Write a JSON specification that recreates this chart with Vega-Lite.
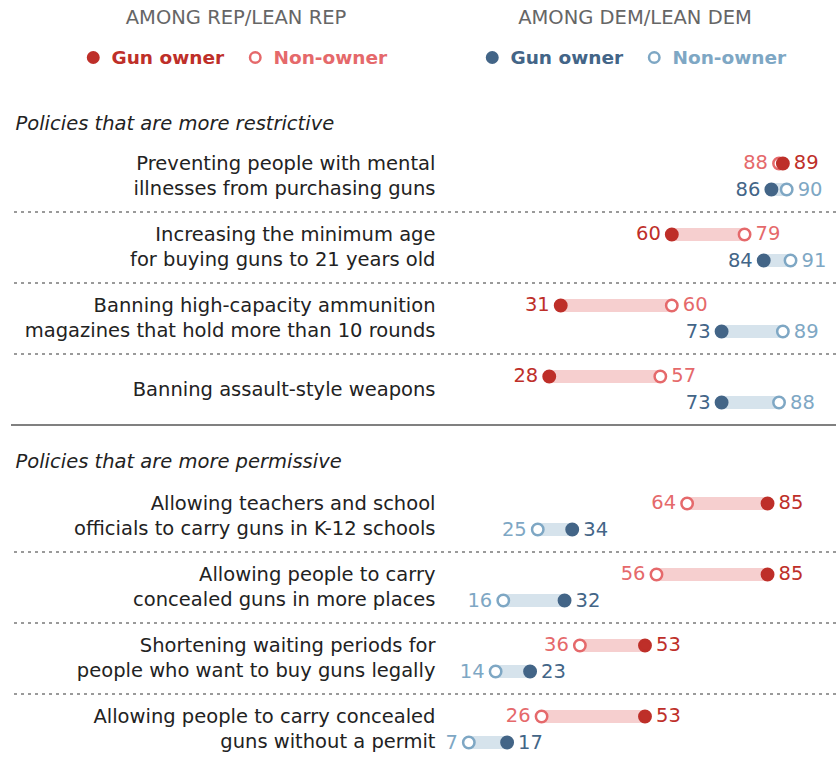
{
  "$schema": "https://vega.github.io/schema/vega-lite/v6.json",
  "padding": {"left": 10, "top": 8, "right": 3, "bottom": 5},
  "autosize": {"type": "pad"},
  "background": "white",
  "config": {"view": {"stroke": null}, "font": "DejaVu Sans"},
  "spacing": 25,
  "data": {"values": [
    {"n": 1, "policy": "Preventing people with mental\nillnesses from purchasing guns", "party": "Rep", "owner": "Non-owner", "value": 88},
    {"n": 1, "policy": "Preventing people with mental\nillnesses from purchasing guns", "party": "Rep", "owner": "Gun owner", "value": 89},
    {"n": 1, "policy": "Preventing people with mental\nillnesses from purchasing guns", "party": "Dem", "owner": "Non-owner", "value": 90},
    {"n": 1, "policy": "Preventing people with mental\nillnesses from purchasing guns", "party": "Dem", "owner": "Gun owner", "value": 86},
    {"n": 2, "policy": "Increasing the minimum age\nfor buying guns to 21 years old", "party": "Rep", "owner": "Non-owner", "value": 79},
    {"n": 2, "policy": "Increasing the minimum age\nfor buying guns to 21 years old", "party": "Rep", "owner": "Gun owner", "value": 60},
    {"n": 2, "policy": "Increasing the minimum age\nfor buying guns to 21 years old", "party": "Dem", "owner": "Non-owner", "value": 91},
    {"n": 2, "policy": "Increasing the minimum age\nfor buying guns to 21 years old", "party": "Dem", "owner": "Gun owner", "value": 84},
    {"n": 3, "policy": "Banning high-capacity ammunition\nmagazines that hold more than 10 rounds", "party": "Rep", "owner": "Non-owner", "value": 60},
    {"n": 3, "policy": "Banning high-capacity ammunition\nmagazines that hold more than 10 rounds", "party": "Rep", "owner": "Gun owner", "value": 31},
    {"n": 3, "policy": "Banning high-capacity ammunition\nmagazines that hold more than 10 rounds", "party": "Dem", "owner": "Non-owner", "value": 89},
    {"n": 3, "policy": "Banning high-capacity ammunition\nmagazines that hold more than 10 rounds", "party": "Dem", "owner": "Gun owner", "value": 73},
    {"n": 4, "policy": "Banning assault-style weapons", "party": "Rep", "owner": "Non-owner", "value": 57},
    {"n": 4, "policy": "Banning assault-style weapons", "party": "Rep", "owner": "Gun owner", "value": 28},
    {"n": 4, "policy": "Banning assault-style weapons", "party": "Dem", "owner": "Non-owner", "value": 88},
    {"n": 4, "policy": "Banning assault-style weapons", "party": "Dem", "owner": "Gun owner", "value": 73},
    {"n": 5, "policy": "Allowing teachers and school\nofficials to carry guns in K-12 schools", "party": "Rep", "owner": "Non-owner", "value": 64},
    {"n": 5, "policy": "Allowing teachers and school\nofficials to carry guns in K-12 schools", "party": "Rep", "owner": "Gun owner", "value": 85},
    {"n": 5, "policy": "Allowing teachers and school\nofficials to carry guns in K-12 schools", "party": "Dem", "owner": "Non-owner", "value": 25},
    {"n": 5, "policy": "Allowing teachers and school\nofficials to carry guns in K-12 schools", "party": "Dem", "owner": "Gun owner", "value": 34},
    {"n": 6, "policy": "Allowing people to carry\nconcealed guns in more places", "party": "Rep", "owner": "Non-owner", "value": 56},
    {"n": 6, "policy": "Allowing people to carry\nconcealed guns in more places", "party": "Rep", "owner": "Gun owner", "value": 85},
    {"n": 6, "policy": "Allowing people to carry\nconcealed guns in more places", "party": "Dem", "owner": "Non-owner", "value": 16},
    {"n": 6, "policy": "Allowing people to carry\nconcealed guns in more places", "party": "Dem", "owner": "Gun owner", "value": 32},
    {"n": 7, "policy": "Shortening waiting periods for\npeople who want to buy guns legally", "party": "Rep", "owner": "Non-owner", "value": 36},
    {"n": 7, "policy": "Shortening waiting periods for\npeople who want to buy guns legally", "party": "Rep", "owner": "Gun owner", "value": 53},
    {"n": 7, "policy": "Shortening waiting periods for\npeople who want to buy guns legally", "party": "Dem", "owner": "Non-owner", "value": 14},
    {"n": 7, "policy": "Shortening waiting periods for\npeople who want to buy guns legally", "party": "Dem", "owner": "Gun owner", "value": 23},
    {"n": 8, "policy": "Allowing people to carry concealed\nguns without a permit", "party": "Rep", "owner": "Non-owner", "value": 26},
    {"n": 8, "policy": "Allowing people to carry concealed\nguns without a permit", "party": "Rep", "owner": "Gun owner", "value": 53},
    {"n": 8, "policy": "Allowing people to carry concealed\nguns without a permit", "party": "Dem", "owner": "Non-owner", "value": 7},
    {"n": 8, "policy": "Allowing people to carry concealed\nguns without a permit", "party": "Dem", "owner": "Gun owner", "value": 17}
  ]},
  "vconcat": [
    {
      "width": 825,
      "height": 284,
      "transform": [{"filter": "datum.n <= 4"}],
      "layer": [
        {
          "transform": [{"filter": "datum.party == 'Rep' && datum.owner == 'Gun owner' && datum.n != 1"}],
          "mark": {"type": "rule", "stroke": "#7a7a7a", "strokeWidth": 1.5, "strokeDash": [3, 4]},
          "encoding": {
            "y": {"field": "policy", "type": "nominal", "sort": {"field": "n", "op": "min"}, "bandPosition": 0, "scale": {"paddingInner": 0, "paddingOuter": 0}, "axis": {"title": "Policies that are more restrictive", "titleAngle": 0, "titleAlign": "left", "titleBaseline": "alphabetic", "titleX": -420, "titleY": -11.5, "titleFontSize": 19.5, "titleFontStyle": "italic", "titleFontWeight": "normal", "titleColor": "#222", "orient": "left", "offset": -424, "labelPadding": 0, "ticks": false, "domain": false, "grid": false, "labelExpr": "split(datum.label, '\\n')", "labelOffset": {"condition": {"test": "indexof(datum.value, '\\n') >= 0", "value": -12.5}, "value": 0}, "labelFontSize": 19.5, "labelColor": "#222", "labelLimit": 0, "labelLineHeight": 25, "labelBaseline": "middle", "labelAlign": "right"}}
          }
        },
        {
          "transform": [{"filter": "datum.party == 'Rep' && datum.owner == 'Gun owner' && datum.n == 4"}],
          "mark": {"type": "rule", "stroke": "#808080", "strokeWidth": 2},
          "encoding": {
            "y": {"field": "policy", "type": "nominal", "sort": {"field": "n", "op": "min"}, "bandPosition": 1, "axis": {"title": "Policies that are more restrictive", "titleAngle": 0, "titleAlign": "left", "titleBaseline": "alphabetic", "titleX": -420, "titleY": -11.5, "titleFontSize": 19.5, "titleFontStyle": "italic", "titleFontWeight": "normal", "titleColor": "#222", "orient": "left", "offset": -424, "labelPadding": 0, "ticks": false, "domain": false, "grid": false, "labelExpr": "split(datum.label, '\\n')", "labelOffset": {"condition": {"test": "indexof(datum.value, '\\n') >= 0", "value": -12.5}, "value": 0}, "labelFontSize": 19.5, "labelColor": "#222", "labelLimit": 0, "labelLineHeight": 25, "labelBaseline": "middle", "labelAlign": "right"}}
          }
        },
        {
          "mark": {"type": "bar", "size": 13},
          "encoding": {
            "y": {"field": "policy", "type": "nominal", "sort": {"field": "n", "op": "min"}, "axis": {"title": "Policies that are more restrictive", "titleAngle": 0, "titleAlign": "left", "titleBaseline": "alphabetic", "titleX": -420, "titleY": -11.5, "titleFontSize": 19.5, "titleFontStyle": "italic", "titleFontWeight": "normal", "titleColor": "#222", "orient": "left", "offset": -424, "labelPadding": 0, "ticks": false, "domain": false, "grid": false, "labelExpr": "split(datum.label, '\\n')", "labelOffset": {"condition": {"test": "indexof(datum.value, '\\n') >= 0", "value": -12.5}, "value": 0}, "labelFontSize": 19.5, "labelColor": "#222", "labelLimit": 0, "labelLineHeight": 25, "labelBaseline": "middle", "labelAlign": "right"}},
            "yOffset": {"field": "party", "type": "nominal", "scale": {"domain": ["Rep", "Dem"], "paddingInner": 0, "paddingOuter": 0.365}},
            "x": {"aggregate": "min", "field": "value", "type": "quantitative", "scale": {"domain": [0, 100], "range": [431, 814], "nice": false, "zero": false}, "axis": null},
            "x2": {"aggregate": "max", "field": "value"},
            "color": {"condition": {"test": "datum.party == 'Rep'", "value": "#F6CFCF"}, "value": "#D6E3EC"}
          }
        },
        {
          "transform": [{"filter": "datum.party == 'Rep'"}],
          "mark": {"type": "point", "shape": "circle", "size": 130, "strokeWidth": 2.5, "opacity": 1, "filled": true},
          "encoding": {
            "y": {"field": "policy", "type": "nominal", "sort": {"field": "n", "op": "min"}, "axis": {"title": "Policies that are more restrictive", "titleAngle": 0, "titleAlign": "left", "titleBaseline": "alphabetic", "titleX": -420, "titleY": -11.5, "titleFontSize": 19.5, "titleFontStyle": "italic", "titleFontWeight": "normal", "titleColor": "#222", "orient": "left", "offset": -424, "labelPadding": 0, "ticks": false, "domain": false, "grid": false, "labelExpr": "split(datum.label, '\\n')", "labelOffset": {"condition": {"test": "indexof(datum.value, '\\n') >= 0", "value": -12.5}, "value": 0}, "labelFontSize": 19.5, "labelColor": "#222", "labelLimit": 0, "labelLineHeight": 25, "labelBaseline": "middle", "labelAlign": "right"}},
            "yOffset": {"field": "party", "type": "nominal"},
            "x": {"field": "value", "type": "quantitative"},
            "fill": {"field": "owner", "type": "nominal", "scale": {"range": ["#BE2F29", "#FFFFFF"]}, "legend": {"title": "AMONG REP/LEAN REP", "orient": "none", "legendX": 73, "legendY": -132.5, "direction": "horizontal", "titleAnchor": "middle", "titleAlign": "center", "titleLimit": 500, "titleFontSize": 19.5, "titleFontWeight": "normal", "titleColor": "#666", "titlePadding": 20, "labelFontSize": 18.5, "labelFontWeight": "bold", "labelColor": {"expr": "datum.label == 'Gun owner' ? '#BE2F29' : '#E5696B'"}, "symbolSize": 110, "symbolStrokeWidth": 2.5, "symbolType": "circle", "labelOffset": 9, "columnPadding": 20, "padding": 0}},
            "stroke": {"field": "owner", "type": "nominal", "scale": {"range": ["#BE2F29", "#E5696B"]}, "legend": {"title": "AMONG REP/LEAN REP", "orient": "none", "legendX": 73, "legendY": -132.5, "direction": "horizontal", "titleAnchor": "middle", "titleAlign": "center", "titleLimit": 500, "titleFontSize": 19.5, "titleFontWeight": "normal", "titleColor": "#666", "titlePadding": 20, "labelFontSize": 18.5, "labelFontWeight": "bold", "labelColor": {"expr": "datum.label == 'Gun owner' ? '#BE2F29' : '#E5696B'"}, "symbolSize": 110, "symbolStrokeWidth": 2.5, "symbolType": "circle", "labelOffset": 9, "columnPadding": 20, "padding": 0}}
          }
        },
        {
          "transform": [{"filter": "datum.party == 'Dem'"}],
          "mark": {"type": "point", "shape": "circle", "size": 130, "strokeWidth": 2.5, "opacity": 1, "filled": true},
          "encoding": {
            "y": {"field": "policy", "type": "nominal", "sort": {"field": "n", "op": "min"}, "axis": {"title": "Policies that are more restrictive", "titleAngle": 0, "titleAlign": "left", "titleBaseline": "alphabetic", "titleX": -420, "titleY": -11.5, "titleFontSize": 19.5, "titleFontStyle": "italic", "titleFontWeight": "normal", "titleColor": "#222", "orient": "left", "offset": -424, "labelPadding": 0, "ticks": false, "domain": false, "grid": false, "labelExpr": "split(datum.label, '\\n')", "labelOffset": {"condition": {"test": "indexof(datum.value, '\\n') >= 0", "value": -12.5}, "value": 0}, "labelFontSize": 19.5, "labelColor": "#222", "labelLimit": 0, "labelLineHeight": 25, "labelBaseline": "middle", "labelAlign": "right"}},
            "yOffset": {"field": "party", "type": "nominal"},
            "x": {"field": "value", "type": "quantitative"},
            "fill": {"field": "owner", "type": "nominal", "scale": {"range": ["#436587", "#FFFFFF"]}, "legend": {"title": "AMONG DEM/LEAN DEM", "orient": "none", "legendX": 472, "legendY": -132.5, "direction": "horizontal", "titleAnchor": "middle", "titleAlign": "center", "titleLimit": 500, "titleFontSize": 19.5, "titleFontWeight": "normal", "titleColor": "#666", "titlePadding": 20, "labelFontSize": 18.5, "labelFontWeight": "bold", "labelColor": {"expr": "datum.label == 'Gun owner' ? '#436587' : '#7EA7C4'"}, "symbolSize": 110, "symbolStrokeWidth": 2.5, "symbolType": "circle", "labelOffset": 9, "columnPadding": 20, "padding": 0}},
            "stroke": {"field": "owner", "type": "nominal", "scale": {"range": ["#436587", "#7EA7C4"]}, "legend": {"title": "AMONG DEM/LEAN DEM", "orient": "none", "legendX": 472, "legendY": -132.5, "direction": "horizontal", "titleAnchor": "middle", "titleAlign": "center", "titleLimit": 500, "titleFontSize": 19.5, "titleFontWeight": "normal", "titleColor": "#666", "titlePadding": 20, "labelFontSize": 18.5, "labelFontWeight": "bold", "labelColor": {"expr": "datum.label == 'Gun owner' ? '#436587' : '#7EA7C4'"}, "symbolSize": 110, "symbolStrokeWidth": 2.5, "symbolType": "circle", "labelOffset": 9, "columnPadding": 20, "padding": 0}}
          }
        },
        {
          "transform": [{"joinaggregate": [{"op": "max", "field": "value", "as": "mx"}], "groupby": ["policy", "party"]}],
          "mark": {"type": "text", "fontSize": 19.5, "baseline": "middle", "align": {"expr": "datum.value == datum.mx ? 'left' : 'right'"}, "dx": {"expr": "datum.value == datum.mx ? 11 : -11"}},
          "encoding": {
            "y": {"field": "policy", "type": "nominal", "sort": {"field": "n", "op": "min"}, "axis": {"title": "Policies that are more restrictive", "titleAngle": 0, "titleAlign": "left", "titleBaseline": "alphabetic", "titleX": -420, "titleY": -11.5, "titleFontSize": 19.5, "titleFontStyle": "italic", "titleFontWeight": "normal", "titleColor": "#222", "orient": "left", "offset": -424, "labelPadding": 0, "ticks": false, "domain": false, "grid": false, "labelExpr": "split(datum.label, '\\n')", "labelOffset": {"condition": {"test": "indexof(datum.value, '\\n') >= 0", "value": -12.5}, "value": 0}, "labelFontSize": 19.5, "labelColor": "#222", "labelLimit": 0, "labelLineHeight": 25, "labelBaseline": "middle", "labelAlign": "right"}},
            "yOffset": {"field": "party", "type": "nominal"},
            "x": {"field": "value", "type": "quantitative"},
            "text": {"field": "value", "type": "quantitative"},
            "color": {"condition": [
              {"test": "datum.party == 'Rep' && datum.owner == 'Gun owner'", "value": "#BE2F29"},
              {"test": "datum.party == 'Rep'", "value": "#E5696B"},
              {"test": "datum.owner == 'Gun owner'", "value": "#436587"}
            ], "value": "#7EA7C4"}
          }
        }
      ],
      "resolve": {"scale": {"fill": "independent", "stroke": "independent"}}
    },
    {
      "width": 825,
      "height": 284,
      "transform": [{"filter": "datum.n >= 5"}],
      "layer": [
        {
          "transform": [{"filter": "datum.party == 'Rep' && datum.owner == 'Gun owner' && datum.n != 5"}],
          "mark": {"type": "rule", "stroke": "#7a7a7a", "strokeWidth": 1.5, "strokeDash": [3, 4]},
          "encoding": {
            "y": {"field": "policy", "type": "nominal", "sort": {"field": "n", "op": "min"}, "bandPosition": 0, "scale": {"paddingInner": 0, "paddingOuter": 0}, "axis": {"title": "Policies that are more permissive", "titleAngle": 0, "titleAlign": "left", "titleBaseline": "alphabetic", "titleX": -420, "titleY": -14, "titleFontSize": 19.5, "titleFontStyle": "italic", "titleFontWeight": "normal", "titleColor": "#222", "orient": "left", "offset": -424, "labelPadding": 0, "ticks": false, "domain": false, "grid": false, "labelExpr": "split(datum.label, '\\n')", "labelOffset": {"condition": {"test": "indexof(datum.value, '\\n') >= 0", "value": -12.5}, "value": 0}, "labelFontSize": 19.5, "labelColor": "#222", "labelLimit": 0, "labelLineHeight": 25, "labelBaseline": "middle", "labelAlign": "right"}}
          }
        },
        {
          "mark": {"type": "bar", "size": 13},
          "encoding": {
            "y": {"field": "policy", "type": "nominal", "sort": {"field": "n", "op": "min"}, "axis": {"title": "Policies that are more permissive", "titleAngle": 0, "titleAlign": "left", "titleBaseline": "alphabetic", "titleX": -420, "titleY": -14, "titleFontSize": 19.5, "titleFontStyle": "italic", "titleFontWeight": "normal", "titleColor": "#222", "orient": "left", "offset": -424, "labelPadding": 0, "ticks": false, "domain": false, "grid": false, "labelExpr": "split(datum.label, '\\n')", "labelOffset": {"condition": {"test": "indexof(datum.value, '\\n') >= 0", "value": -12.5}, "value": 0}, "labelFontSize": 19.5, "labelColor": "#222", "labelLimit": 0, "labelLineHeight": 25, "labelBaseline": "middle", "labelAlign": "right"}},
            "yOffset": {"field": "party", "type": "nominal", "scale": {"domain": ["Rep", "Dem"], "paddingInner": 0, "paddingOuter": 0.365}},
            "x": {"aggregate": "min", "field": "value", "type": "quantitative", "scale": {"domain": [0, 100], "range": [431, 814], "nice": false, "zero": false}, "axis": null},
            "x2": {"aggregate": "max", "field": "value"},
            "color": {"condition": {"test": "datum.party == 'Rep'", "value": "#F6CFCF"}, "value": "#D6E3EC"}
          }
        },
        {
          "transform": [{"filter": "datum.party == 'Rep'"}],
          "mark": {"type": "point", "shape": "circle", "size": 130, "strokeWidth": 2.5, "opacity": 1, "filled": true},
          "encoding": {
            "y": {"field": "policy", "type": "nominal", "sort": {"field": "n", "op": "min"}, "axis": {"title": "Policies that are more permissive", "titleAngle": 0, "titleAlign": "left", "titleBaseline": "alphabetic", "titleX": -420, "titleY": -14, "titleFontSize": 19.5, "titleFontStyle": "italic", "titleFontWeight": "normal", "titleColor": "#222", "orient": "left", "offset": -424, "labelPadding": 0, "ticks": false, "domain": false, "grid": false, "labelExpr": "split(datum.label, '\\n')", "labelOffset": {"condition": {"test": "indexof(datum.value, '\\n') >= 0", "value": -12.5}, "value": 0}, "labelFontSize": 19.5, "labelColor": "#222", "labelLimit": 0, "labelLineHeight": 25, "labelBaseline": "middle", "labelAlign": "right"}},
            "yOffset": {"field": "party", "type": "nominal"},
            "x": {"field": "value", "type": "quantitative"},
            "fill": {"field": "owner", "type": "nominal", "scale": {"range": ["#BE2F29", "#FFFFFF"]}, "legend": null},
            "stroke": {"field": "owner", "type": "nominal", "scale": {"range": ["#BE2F29", "#E5696B"]}, "legend": null}
          }
        },
        {
          "transform": [{"filter": "datum.party == 'Dem'"}],
          "mark": {"type": "point", "shape": "circle", "size": 130, "strokeWidth": 2.5, "opacity": 1, "filled": true},
          "encoding": {
            "y": {"field": "policy", "type": "nominal", "sort": {"field": "n", "op": "min"}, "axis": {"title": "Policies that are more permissive", "titleAngle": 0, "titleAlign": "left", "titleBaseline": "alphabetic", "titleX": -420, "titleY": -14, "titleFontSize": 19.5, "titleFontStyle": "italic", "titleFontWeight": "normal", "titleColor": "#222", "orient": "left", "offset": -424, "labelPadding": 0, "ticks": false, "domain": false, "grid": false, "labelExpr": "split(datum.label, '\\n')", "labelOffset": {"condition": {"test": "indexof(datum.value, '\\n') >= 0", "value": -12.5}, "value": 0}, "labelFontSize": 19.5, "labelColor": "#222", "labelLimit": 0, "labelLineHeight": 25, "labelBaseline": "middle", "labelAlign": "right"}},
            "yOffset": {"field": "party", "type": "nominal"},
            "x": {"field": "value", "type": "quantitative"},
            "fill": {"field": "owner", "type": "nominal", "scale": {"range": ["#436587", "#FFFFFF"]}, "legend": null},
            "stroke": {"field": "owner", "type": "nominal", "scale": {"range": ["#436587", "#7EA7C4"]}, "legend": null}
          }
        },
        {
          "transform": [{"joinaggregate": [{"op": "max", "field": "value", "as": "mx"}], "groupby": ["policy", "party"]}],
          "mark": {"type": "text", "fontSize": 19.5, "baseline": "middle", "align": {"expr": "datum.value == datum.mx ? 'left' : 'right'"}, "dx": {"expr": "datum.value == datum.mx ? 11 : -11"}},
          "encoding": {
            "y": {"field": "policy", "type": "nominal", "sort": {"field": "n", "op": "min"}, "axis": {"title": "Policies that are more permissive", "titleAngle": 0, "titleAlign": "left", "titleBaseline": "alphabetic", "titleX": -420, "titleY": -14, "titleFontSize": 19.5, "titleFontStyle": "italic", "titleFontWeight": "normal", "titleColor": "#222", "orient": "left", "offset": -424, "labelPadding": 0, "ticks": false, "domain": false, "grid": false, "labelExpr": "split(datum.label, '\\n')", "labelOffset": {"condition": {"test": "indexof(datum.value, '\\n') >= 0", "value": -12.5}, "value": 0}, "labelFontSize": 19.5, "labelColor": "#222", "labelLimit": 0, "labelLineHeight": 25, "labelBaseline": "middle", "labelAlign": "right"}},
            "yOffset": {"field": "party", "type": "nominal"},
            "x": {"field": "value", "type": "quantitative"},
            "text": {"field": "value", "type": "quantitative"},
            "color": {"condition": [
              {"test": "datum.party == 'Rep' && datum.owner == 'Gun owner'", "value": "#BE2F29"},
              {"test": "datum.party == 'Rep'", "value": "#E5696B"},
              {"test": "datum.owner == 'Gun owner'", "value": "#436587"}
            ], "value": "#7EA7C4"}
          }
        }
      ],
      "resolve": {"scale": {"fill": "independent", "stroke": "independent"}}
    }
  ],
  "resolve": {"scale": {"x": "independent", "y": "independent", "fill": "independent", "stroke": "independent"}}
}
